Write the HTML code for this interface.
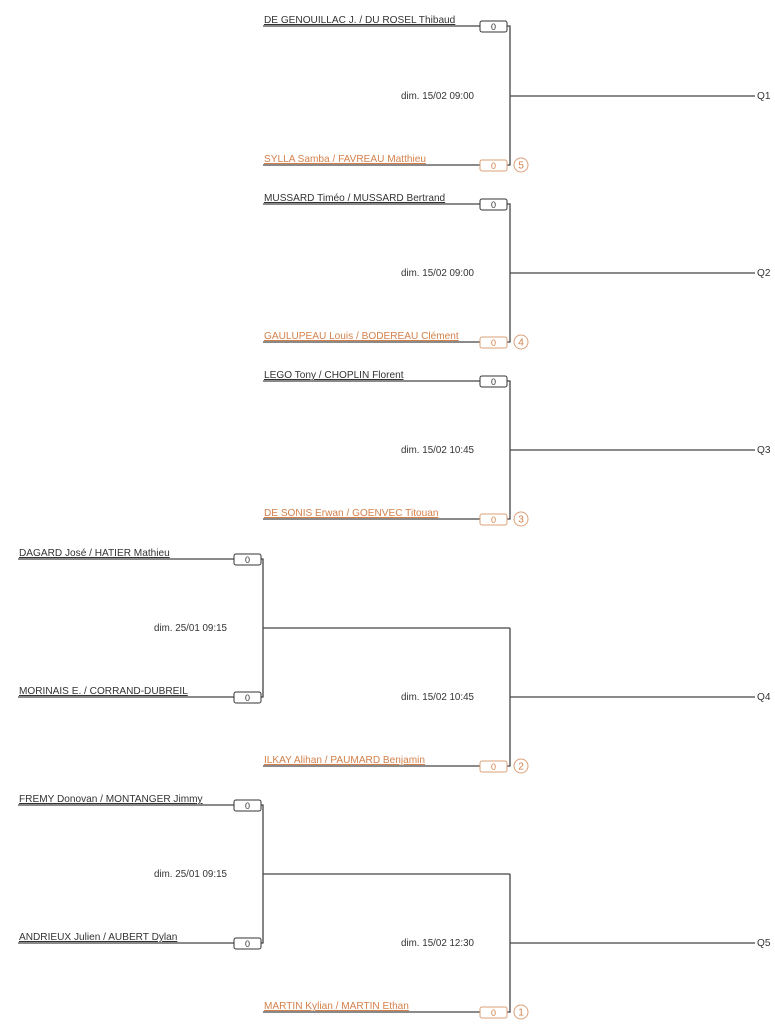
<!DOCTYPE html>
<html><head><meta charset="utf-8"><style>
html,body{margin:0;padding:0;background:#fff;width:775px;height:1024px;overflow:hidden}
svg text{font-family:"Liberation Sans",sans-serif;font-size:10.1px;fill:#333}
svg text.d{font-size:9.8px}
svg text.z{font-size:9px}
.o{fill:#d4804a}
.ln{stroke:#444;stroke-width:1.3;fill:none}
.bx{fill:#fff;stroke:#333;stroke-width:1}
.bo{fill:#fff;stroke:#d9a07a;stroke-width:1}
</style></head><body>
<svg width="775" height="1024" xmlns="http://www.w3.org/2000/svg">
<!-- Q1 -->
<g>
<path class="ln" d="M263 26H480M507 26H510V165H507M510 96H755M263 165H480"/>
<rect class="bx" x="480" y="21" width="27" height="11" rx="2"/><text class="z" x="493.5" y="30" text-anchor="middle">0</text>
<rect class="bo" x="480" y="160" width="27" height="11" rx="2"/><text class="z o" x="493.5" y="169" text-anchor="middle">0</text>
<circle cx="521" cy="165" r="7" fill="#fff" stroke="#d9a07a"/><text class="o" x="521" y="168.5" text-anchor="middle" font-size="8">5</text>
<text x="264" y="23" text-decoration="underline">DE GENOUILLAC J. / DU ROSEL Thibaud</text>
<text class="o" x="264" y="162" text-decoration="underline">SYLLA Samba / FAVREAU Matthieu</text>
<text class="d" x="474" y="99" text-anchor="end">dim. 15/02 09:00</text>
<text x="757" y="99">Q1</text>
</g>
<!-- Q2 -->
<g>
<path class="ln" d="M263 204H480M507 204H510V342H507M510 273H755M263 342H480"/>
<rect class="bx" x="480" y="199" width="27" height="11" rx="2"/><text class="z" x="493.5" y="208" text-anchor="middle">0</text>
<rect class="bo" x="480" y="337" width="27" height="11" rx="2"/><text class="z o" x="493.5" y="346" text-anchor="middle">0</text>
<circle cx="521" cy="342" r="7" fill="#fff" stroke="#d9a07a"/><text class="o" x="521" y="345.5" text-anchor="middle" font-size="8">4</text>
<text x="264" y="201" text-decoration="underline">MUSSARD Timéo / MUSSARD Bertrand</text>
<text class="o" x="264" y="339" text-decoration="underline">GAULUPEAU Louis / BODEREAU Clément</text>
<text class="d" x="474" y="276" text-anchor="end">dim. 15/02 09:00</text>
<text x="757" y="276">Q2</text>
</g>
<!-- Q3 -->
<g>
<path class="ln" d="M263 381H480M507 381H510V519H507M510 450H755M263 519H480"/>
<rect class="bx" x="480" y="376" width="27" height="11" rx="2"/><text class="z" x="493.5" y="385" text-anchor="middle">0</text>
<rect class="bo" x="480" y="514" width="27" height="11" rx="2"/><text class="z o" x="493.5" y="523" text-anchor="middle">0</text>
<circle cx="521" cy="519" r="7" fill="#fff" stroke="#d9a07a"/><text class="o" x="521" y="522.5" text-anchor="middle" font-size="8">3</text>
<text x="264" y="378" text-decoration="underline">LEGO Tony / CHOPLIN Florent</text>
<text class="o" x="264" y="516" text-decoration="underline">DE SONIS Erwan / GOENVEC Titouan</text>
<text class="d" x="474" y="453" text-anchor="end">dim. 15/02 10:45</text>
<text x="757" y="453">Q3</text>
</g>
<!-- Left A -->
<g>
<path class="ln" d="M18 559H234M261 559H263V697H261M263 628H510M18 697H234"/>
<rect class="bx" x="234" y="554" width="27" height="11" rx="2"/><text class="z" x="247.5" y="563" text-anchor="middle">0</text>
<rect class="bx" x="234" y="692" width="27" height="11" rx="2"/><text class="z" x="247.5" y="701" text-anchor="middle">0</text>
<text x="19" y="556" text-decoration="underline">DAGARD José / HATIER Mathieu</text>
<text x="19" y="694" text-decoration="underline">MORINAIS E. / CORRAND-DUBREIL</text>
<text class="d" x="227" y="631" text-anchor="end">dim. 25/01 09:15</text>
</g>
<!-- Q4 -->
<g>
<path class="ln" d="M510 628V766H507M510 697H755M263 766H480"/>
<rect class="bo" x="480" y="761" width="27" height="11" rx="2"/><text class="z o" x="493.5" y="770" text-anchor="middle">0</text>
<circle cx="521" cy="766" r="7" fill="#fff" stroke="#d9a07a"/><text class="o" x="521" y="769.5" text-anchor="middle" font-size="8">2</text>
<text class="o" x="264" y="763" text-decoration="underline">ILKAY Alihan / PAUMARD Benjamin</text>
<text class="d" x="474" y="700" text-anchor="end">dim. 15/02 10:45</text>
<text x="757" y="700">Q4</text>
</g>
<!-- Left B -->
<g>
<path class="ln" d="M18 805H234M261 805H263V943H261M263 874H510M18 943H234"/>
<rect class="bx" x="234" y="800" width="27" height="11" rx="2"/><text class="z" x="247.5" y="809" text-anchor="middle">0</text>
<rect class="bx" x="234" y="938" width="27" height="11" rx="2"/><text class="z" x="247.5" y="947" text-anchor="middle">0</text>
<text x="19" y="802" text-decoration="underline">FREMY Donovan / MONTANGER Jimmy</text>
<text x="19" y="940" text-decoration="underline">ANDRIEUX Julien / AUBERT Dylan</text>
<text class="d" x="227" y="877" text-anchor="end">dim. 25/01 09:15</text>
</g>
<!-- Q5 -->
<g>
<path class="ln" d="M510 874V1012H507M510 943H755M263 1012H480"/>
<rect class="bo" x="480" y="1007" width="27" height="11" rx="2"/><text class="z o" x="493.5" y="1016" text-anchor="middle">0</text>
<circle cx="521" cy="1012" r="7" fill="#fff" stroke="#d9a07a"/><text class="o" x="521" y="1015.5" text-anchor="middle" font-size="8">1</text>
<text class="o" x="264" y="1009" text-decoration="underline">MARTIN Kylian / MARTIN Ethan</text>
<text class="d" x="474" y="946" text-anchor="end">dim. 15/02 12:30</text>
<text x="757" y="946">Q5</text>
</g>
</svg>
</body></html>
